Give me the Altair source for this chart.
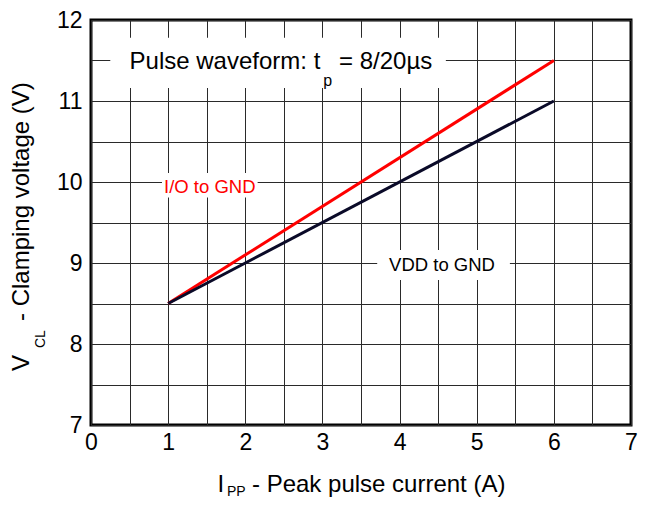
import altair as alt
import pandas as pd

# series
current = [1, 6]
io_gnd = [8.5, 11.5]
vdd_gnd = [8.5, 11.0]

# grid / tick values
x_ticks = [i * 0.5 for i in range(15)]
y_ticks = [7 + i * 0.5 for i in range(11)]

# annotation texts and their anchors (data units)
label_text = ["I/O to GND", "VDD to GND"]
label_color = ["#ff0000", "#000000"]
label_x = [1.54, 4.55]
label_y = [9.94, 8.97]
box_x1 = [0.92, 3.71, 0.25]
box_x2 = [2.16, 5.43, 4.6]
box_y1 = [9.81, 8.79, 11.16]
box_y2 = [10.11, 9.16, 11.78]

FONT = "Liberation Sans"

lines = pd.DataFrame({
    "x": current * 2,
    "y": io_gnd + vdd_gnd,
    "s": ["I/O to GND"] * 2 + ["VDD to GND"] * 2,
})
boxes = pd.DataFrame({"x1": box_x1, "x2": box_x2, "y1": box_y1, "y2": box_y2})
labels = pd.DataFrame({"t": label_text, "c": label_color, "x": label_x, "y": label_y})

xs = alt.Scale(domain=[0, 7], nice=False, zero=False)
ys = alt.Scale(domain=[7, 12], nice=False, zero=False)

xaxis = alt.Axis(values=x_ticks, grid=True, ticks=False, domain=False, format=".0f",
                 labelExpr="datum.value % 1 == 0 ? datum.label : ''",
                 labelFont=FONT, labelFontSize=23, labelColor="black",
                 labelPadding=6, title=None, labelFlush=False,
                 gridColor="#2a2a2a", gridWidth=1, gridOpacity=1)
yaxis = alt.Axis(values=y_ticks, grid=True, ticks=False, domain=False, format=".0f",
                 labelExpr="datum.value % 1 == 0 ? datum.label : ''",
                 labelFont=FONT, labelFontSize=23, labelColor="black",
                 labelPadding=9, title=None, labelFlush=False,
                 gridColor="#2a2a2a", gridWidth=1, gridOpacity=1)

X = lambda f: alt.X(f, scale=xs, axis=xaxis)
Y = lambda f: alt.Y(f, scale=ys, axis=yaxis)

rects = alt.Chart(boxes).mark_rect(color="white").encode(
    x=X("x1:Q"), x2="x2", y=Y("y1:Q"), y2="y2"
)

base_lines = alt.Chart(lines).mark_line(strokeWidth=3).encode(
    x=X("x:Q"), y=Y("y:Q"),
    color=alt.Color("s:N", scale=alt.Scale(domain=["I/O to GND", "VDD to GND"],
                                           range=["#ff0000", "#0a0a28"]), legend=None),
)

line_labels = alt.Chart(labels).mark_text(font=FONT, fontSize=18.5, baseline="middle").encode(
    x=X("x:Q"), y=Y("y:Q"),
    text="t:N", color=alt.Color("c:N", scale=None),
)

pulse = pd.DataFrame({
    "t": ["Pulse waveform: t", "p", "= 8/20\u00b5s"],
    "x": [0.5, 3.01, 3.215],
    "y": [11.39, 11.19, 11.39],
    "fs": [24, 16, 24],
})
pulse_text = alt.Chart(pulse).mark_text(font=FONT, align="left", baseline="alphabetic",
                                        color="black").encode(
    x=X("x:Q"), y=Y("y:Q"), text="t:N",
    size=alt.Size("fs:Q", scale=None, legend=None),
)

# axis titles with subscripts (pixel offsets from plot origin)
xt = pd.DataFrame({"t": ["I", "PP", "- Peak pulse current (A)"],
                   "px": [126.5, 136, 161], "py": [471.5, 476, 471.5],
                   "fs": [24, 14, 24]})
x_title = alt.Chart(xt).mark_text(font=FONT, align="left", baseline="alphabetic",
                                  color="black").encode(
    x=alt.X("px:Q", scale=None), y=alt.Y("py:Q", scale=None), text="t:N",
    size=alt.Size("fs:Q", scale=None, legend=None),
)
yt = pd.DataFrame({"t": ["V", "CL", "- Clamping voltage (V)"],
                   "px": [-62, -46, -62], "py": [351, 328, 301],
                   "fs": [24, 14, 24]})
y_title = alt.Chart(yt).mark_text(font=FONT, align="left", baseline="alphabetic",
                                  angle=270, color="black").encode(
    x=alt.X("px:Q", scale=None), y=alt.Y("py:Q", scale=None), text="t:N",
    size=alt.Size("fs:Q", scale=None, legend=None),
)

chart = alt.layer(rects, base_lines, line_labels, pulse_text, x_title, y_title).properties(
    width=540, height=405,
    autosize=alt.AutoSizeParams(type="none"),
    padding={"left": 83, "top": 12, "right": 7, "bottom": 73},
    background="white",
).configure_view(stroke="black", strokeWidth=3)

chart.save("out.html", embed_options={"renderer": "svg", "actions": False})
